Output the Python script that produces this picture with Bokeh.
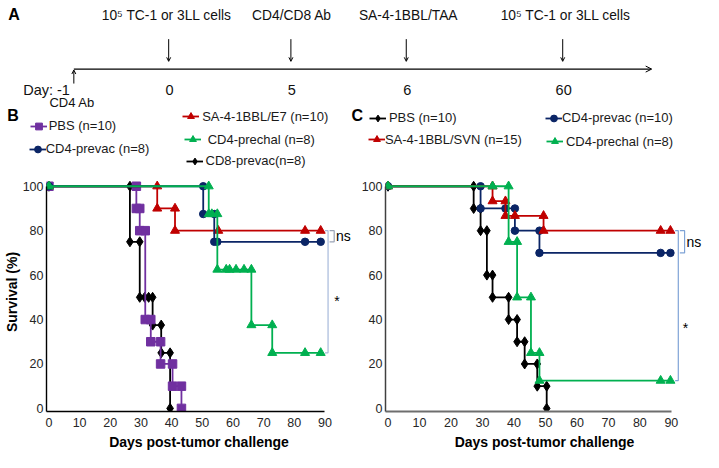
from bokeh.plotting import figure
from bokeh.layouts import column, row
from bokeh.models import (Range1d, FixedTicker, Legend, LegendItem, Arrow,
                          OpenHead, ColumnDataSource)
from bokeh.core.properties import value
from bokeh.embed import file_html
from bokeh.resources import INLINE

FONT = "Liberation Sans"

# ---------------- data ----------------
# Panel A: timeline
timeline_days = ["-1", "0", "5", "6", "60"]
timeline_events = ["CD4 Ab", "10\u2075 TC-1 or 3LL cells", "CD4/CD8  Ab",
                   "SA-4-1BBL/TAA", "10\u2075 TC-1 or 3LL cells"]
panel_letters = ["A", "B", "C"]

x_tick_values = [0, 10, 20, 30, 40, 50, 60, 70, 80, 90]
y_tick_values = [0, 20, 40, 60, 80, 100]

# Panel B (TC-1 / E7)
b_names = ["PBS (n=10)", "CD4-prevac (n=8)", "SA-4-1BBL/E7 (n=10)",
           "CD4-prechal (n=8)", "CD8-prevac(n=8)"]
b_pbs_days = [0, 28.5, 28.5, 29.6, 29.6, 31.4, 31.4, 33.2, 33.2, 36.4, 36.4, 40.3, 40.3, 43.2, 43.2]
b_pbs_surv = [100, 100, 90, 90, 80, 80, 40, 40, 30, 30, 20, 20, 10, 10, 0]
b_cd4prevac_days = [0, 50.3, 50.3, 53.9, 53.9, 54.9, 83.5, 88.6]
b_cd4prevac_surv = [100, 100, 87.5, 87.5, 75, 75, 75, 75]
b_e7_days = [0, 35.3, 35.3, 41.1, 41.1, 55.2, 83.5, 88.6]
b_e7_surv = [100, 100, 90, 90, 80, 80, 80, 80]
b_cd4prechal_days = [0, 52.1, 52.1, 53.1, 54.9, 54.9, 57.8, 58.9, 61.0, 63.6, 66.0, 66.0, 72.8, 72.8, 83.5, 88.6]
b_cd4prechal_surv = [100, 100, 87.5, 87.5, 87.5, 62.5, 62.5, 62.5, 62.5, 62.5, 62.5, 37.5, 37.5, 25, 25, 25]
b_cd8prevac_days = [0, 26.4, 26.4, 29.6, 29.6, 31.2, 32.5, 33.8, 33.8, 36.6, 36.6, 39.5, 39.5]
b_cd8prevac_surv = [100, 100, 75, 75, 50, 50, 50, 50, 37.5, 37.5, 25, 25, 0]

# Panel C (3LL / SVN)
c_names = ["PBS (n=10)", "SA-4-1BBL/SVN (n=15)", "CD4-prevac (n=10)", "CD4-prechal (n=8)"]
c_pbs_days = [0, 27.2, 27.2, 29.4, 29.4, 31.4, 31.4, 33.2, 33.2, 38.3, 38.3, 41.0, 41.0,
              43.4, 43.4, 47.4, 47.4, 50.4, 50.4]
c_pbs_surv = [100, 100, 90, 90, 80, 80, 60, 60, 50, 50, 40, 40, 30, 30, 20, 20, 10, 10, 0]
c_svn_days = [0, 33.2, 33.2, 37.3, 37.3, 40.3, 49.4, 49.4, 86.6, 89.7]
c_svn_surv = [100, 100, 93.3, 93.3, 86.7, 86.7, 86.7, 80, 80, 80]
c_cd4prevac_days = [0, 29.4, 29.4, 37.3, 40.3, 40.3, 48.1, 48.1, 86.6, 89.7]
c_cd4prevac_surv = [100, 100, 90, 90, 90, 80, 80, 70, 70, 70]
c_cd4prechal_days = [0, 33.2, 38.3, 38.3, 41.0, 41.0, 45.4, 45.4, 48.1, 48.1, 86.6, 89.7]
c_cd4prechal_surv = [100, 100, 100, 75, 75, 50, 50, 25, 25, 12.5, 12.5, 12.5]

sig_labels = ["ns", "*"]

# ---------------- styles / layout ----------------
PURPLE, NAVY, RED, GREEN, BLACK = "#7030A0", "#0B2566", "#C00000", "#00B050", "#000000"
ST_PBS_B = dict(color=PURPLE, marker="square", size=8.5)
ST_NAVY = dict(color=NAVY, marker="circle", size=7.5)
ST_RED = dict(color=RED, marker="triangle", size=9)
ST_GREEN = dict(color=GREEN, marker="triangle", size=9)
ST_BLACK = dict(color=BLACK, marker="diamond", size=10)

TOTAL_W, TOTAL_H = 703, 452
SX = TOTAL_W / 719
SY = TOTAL_H / 468
STRIP_H = 172
STRIP_REF = STRIP_H / SY
BOT_H = TOTAL_H - STRIP_H
BOT_BORDER = 41
PX_PER_PCT = (422 - 192) * SY / 100.0
Y_LO = -1.4
Y_HI = Y_LO + (BOT_H - BOT_BORDER) / PX_PER_PCT

# ---------------- panel A + legends strip ----------------
pa = figure(width=TOTAL_W, height=STRIP_H, x_range=Range1d(0, 719), y_range=Range1d(STRIP_REF, 0),
            x_axis_type=None, y_axis_type=None, min_border=0,
            toolbar_location=None, output_backend="svg")
pa.outline_line_color = None
pa.grid.visible = False

event_x = [75, 172, 297, 415, 575]
event_label_x = [None, 170, 300, 417, 578]

pa.text(x=[8, 7, 359], y=[15, 119, 119], text=panel_letters, text_font=value(FONT),
        text_font_style="bold", text_font_size="16px", text_align="left",
        text_baseline="middle", text_color="black")

pa.add_layout(Arrow(end=OpenHead(size=6, line_width=1, line_color="black"),
                    x_start=event_x[0], y_start=71, x_end=666, y_end=71,
                    line_width=1.2, line_color="black"))
for xe in event_x[1:]:
    pa.add_layout(Arrow(end=OpenHead(size=4, line_width=1, line_color="black"),
                        x_start=xe, y_start=40, x_end=xe, y_end=63,
                        line_width=1, line_color="black"))
pa.add_layout(Arrow(end=OpenHead(size=4, line_width=1, line_color="black"),
                    x_start=event_x[0], y_start=86, x_end=event_x[0], y_end=72,
                    line_width=1, line_color="black"))

pa.text(x=event_label_x[1:], y=[16] * 4, text=timeline_events[1:], text_font=value(FONT),
        text_font_size="13.8px", text_align="center", text_baseline="middle", text_color="#111111")
pa.text(x=[50], y=[106], text=[timeline_events[0]], text_font=value(FONT),
        text_font_size="13px", text_align="left", text_baseline="middle", text_color="#111111")
pa.text(x=[event_x[0] - 4], y=[93], text=["Day: " + timeline_days[0]], text_font=value(FONT),
        text_font_size="14.5px", text_align="right", text_baseline="middle", text_color="#111111")
pa.text(x=[x + 1 for x in event_x[1:]], y=[93] * 4, text=timeline_days[1:], text_font=value(FONT),
        text_font_size="14.5px", text_align="center", text_baseline="middle", text_color="#111111")


def add_legend(label, st, sw_cx_ref, yc_ref, text_x_ref):
    # off-screen proxy renderers that only give the legend its swatch
    src = ColumnDataSource(dict(x=[-500, -400], y=[-500, -500]))
    lr = pa.line("x", "y", source=src, line_color=st["color"], line_width=1.8)
    sr = pa.scatter("x", "y", source=src, marker=st["marker"], size=st["size"],
                    fill_color=st["color"], line_color=st["color"])
    gw = 17
    lx = SX * sw_cx_ref - gw / 2
    standoff = max(0, int(round(SX * text_x_ref - (lx + gw))))
    ly = STRIP_H - (SY * yc_ref + 10)
    leg = Legend(items=[LegendItem(label=label, renderers=[lr, sr])], location=(lx, ly),
                 padding=0, margin=0, spacing=0, border_line_color=None,
                 background_fill_alpha=0, glyph_width=gw, glyph_height=20, label_height=20,
                 label_standoff=standoff, label_text_font=FONT, label_text_font_size="13px",
                 label_text_color="#1a1a1a")
    pa.add_layout(leg)


add_legend(b_names[0], ST_PBS_B, 39, 130, 50)
add_legend(b_names[1], ST_NAVY, 38, 154, 45)
add_legend(b_names[2], ST_RED, 195, 120.5, 207)
add_legend(b_names[3], ST_GREEN, 196.5, 144, 212)
add_legend(b_names[4], ST_BLACK, 198.5, 166.5, 210)
add_legend(c_names[0], ST_BLACK, 386, 122, 398)
add_legend(c_names[1], ST_RED, 385, 144, 394)
add_legend(c_names[2], ST_NAVY, 566, 122, 573)
add_legend(c_names[3], ST_GREEN, 567, 146, 579)


# ---------------- survival panels ----------------
def make_surv(width, border_left, x_end, ylabel, xcol, ycol, xw, yw):
    p = figure(width=width, height=BOT_H, x_range=Range1d(-0.8, x_end),
               y_range=Range1d(Y_LO, Y_HI),
               min_border_left=border_left, min_border_right=0, min_border_top=0,
               min_border_bottom=BOT_BORDER, toolbar_location=None, output_backend="svg")
    p.grid.visible = False
    p.outline_line_color = None
    xa, ya = p.xaxis[0], p.yaxis[0]
    xa.ticker = FixedTicker(ticks=x_tick_values)
    ya.ticker = FixedTicker(ticks=y_tick_values)
    xa.bounds = (-0.8, 90)
    ya.bounds = (Y_LO, 100)
    for ax in (xa, ya):
        ax.major_tick_out = 0
        ax.major_tick_in = 0
        ax.minor_tick_out = 0
        ax.minor_tick_in = 0
        ax.major_label_text_font = FONT
        ax.major_label_text_font_size = "12.5px"
        ax.major_label_text_color = "#262626"
        ax.axis_label_text_font = FONT
        ax.axis_label_text_font_style = "bold"
        ax.axis_label_text_font_size = "14px"
        ax.axis_label_text_color = "black"
    xa.axis_line_color, xa.axis_line_width = xcol, xw
    ya.axis_line_color, ya.axis_line_width = ycol, yw
    xa.major_label_standoff = 6
    xa.axis_label = "Days post-tumor challenge"
    xa.axis_label_standoff = 4
    ya.major_label_standoff = 3
    if ylabel:
        ya.axis_label = ylabel
        ya.axis_label_standoff = 0
    return p


def add_series(p, days, surv, st):
    src = ColumnDataSource(dict(x=days, y=surv))
    p.line("x", "y", source=src, line_color=st["color"], line_width=1.8)
    p.scatter("x", "y", source=src, marker=st["marker"], size=st["size"],
              fill_color=st["color"], line_color=st["color"])


# Panel B
B_W, B_LEFT = 351, 42
pb = make_surv(B_W, B_LEFT, -0.8 + (B_W - B_LEFT) / (3.178 * SX), "Survival (%)",
               "black", "black", 1.4, 1.4)
add_series(pb, b_cd8prevac_days, b_cd8prevac_surv, ST_BLACK)
add_series(pb, b_pbs_days, b_pbs_surv, ST_PBS_B)
add_series(pb, b_e7_days, b_e7_surv, ST_RED)
add_series(pb, b_cd4prevac_days, b_cd4prevac_surv, ST_NAVY)
add_series(pb, b_cd4prechal_days, b_cd4prechal_surv, ST_GREEN)

b_top = b_e7_surv[-1]
pb.line([91.5, 93, 93, 91.5], [b_top, b_top, b_cd4prevac_surv[-1], b_cd4prevac_surv[-1]],
        line_color="#9AA3B5", line_width=1.2)
pb.line([90, 91, 91, 90], [b_top, b_top, b_cd4prechal_surv[-1], b_cd4prechal_surv[-1]],
        line_color="#A7B9DA", line_width=1.2)
pb.text(x=[93.6], y=[77.5], text=[sig_labels[0]], text_font=value(FONT), text_font_size="14px",
        text_align="left", text_baseline="middle", text_color="black")
pb.text(x=[93.0], y=[48.5], text=[sig_labels[1]], text_font=value(FONT), text_font_size="14px",
        text_align="left", text_baseline="middle", text_color="black")

# Panel C
C_W = TOTAL_W - B_W
C_PX_DAY = 3.22
C_ZERO_REF = 396
C_LEFT = int(round(SX * (C_ZERO_REF - 359) - 0.8 * C_PX_DAY * SX))
pc = make_surv(C_W, C_LEFT, -0.8 + (C_W - C_LEFT) / (C_PX_DAY * SX), None,
               "#6E6E6E", "#404040", 2.0, 1.5)
add_series(pc, c_pbs_days, c_pbs_surv, ST_BLACK)
add_series(pc, c_cd4prevac_days, c_cd4prevac_surv, ST_NAVY)
add_series(pc, c_svn_days, c_svn_surv, ST_RED)
add_series(pc, c_cd4prechal_days, c_cd4prechal_surv, ST_GREEN)

c_top = c_svn_surv[-1]
pc.line([92.7, 94.2, 94.2, 92.7], [c_top, c_top, c_cd4prevac_surv[-1], c_cd4prevac_surv[-1]],
        line_color="#7FA3D6", line_width=1.2)
pc.line([91.2, 92.2, 92.2, 91.2], [c_top, c_top, c_cd4prechal_surv[-1], c_cd4prechal_surv[-1]],
        line_color="#7FA3D6", line_width=1.2)
pc.text(x=[94.8], y=[75], text=[sig_labels[0]], text_font=value(FONT), text_font_size="14px",
        text_align="left", text_baseline="middle", text_color="black")
pc.text(x=[93.6], y=[36], text=[sig_labels[1]], text_font=value(FONT), text_font_size="14px",
        text_align="left", text_baseline="middle", text_color="black")

layout = column(pa, row(pb, pc, spacing=0), spacing=0)
open("out.html", "w").write(file_html(layout, INLINE))
